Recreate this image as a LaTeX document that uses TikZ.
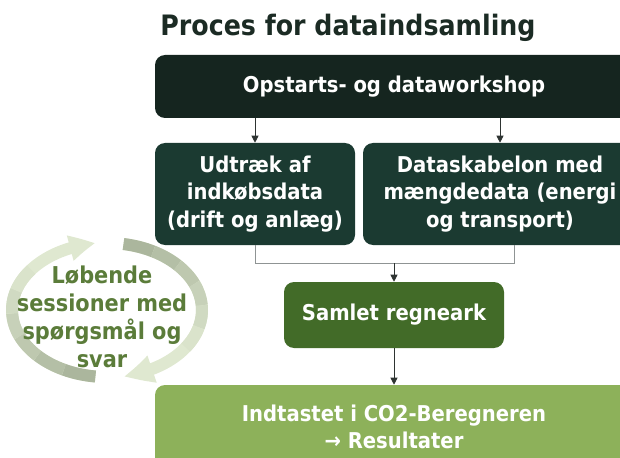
\documentclass[tikz,border=0pt]{standalone}
\usepackage{fontspec}
\setmainfont{DejaVu Sans Condensed}
\usetikzlibrary{arrows.meta,bending,calc}

\definecolor{titlecol}{HTML}{1B2B24}
\definecolor{topcol}{HTML}{15251F}
\definecolor{midcol}{HTML}{1B3A31}
\definecolor{samcol}{HTML}{426B28}
\definecolor{botcol}{HTML}{8DB15A}
\definecolor{cyctext}{HTML}{5B7C3A}
\definecolor{cycdark}{HTML}{ABB69D}
\definecolor{cyclight}{HTML}{DFE8D0}
\definecolor{linegray}{HTML}{8F9494}
\definecolor{tipgray}{HTML}{2E3432}

\newcommand{\boxfont}{\bfseries\fontsize{15.5}{19.5}\selectfont}
\newcommand{\cycfont}{\bfseries\fontsize{16.5}{19.8}\selectfont}

\tikzset{
  box/.style={rounded corners=0.25cm, text=white, font=\boxfont, align=center, inner sep=0pt},
  flow/.style={draw=tipgray, line width=0.6pt, -{Triangle[width=5pt,length=5pt]}},
  joinline/.style={draw=linegray, line width=0.7pt},
  cycarc/.style={line width=0.3cm},
}

\begin{document}
\begin{tikzpicture}
\useasboundingbox (0,0) rectangle (15.5,11.425);

% kredsloeb til venstre
\coordinate (cc) at (2.675,3.675);
\draw[cycarc, cyclight, -{Triangle[width=0.6cm,length=0.65cm,bend]}]
  ($(cc)+(-97:2.375 and 1.675)$) arc[start angle=-97, end angle=-263, x radius=2.375, y radius=1.675];
\draw[cycarc, cyclight, -{Triangle[width=0.65cm,length=0.75cm,bend]}]
  ($(cc)+(80:2.375 and 1.675)$) arc[start angle=80, end angle=-80, x radius=2.375, y radius=1.675];
\foreach \i in {0,...,5}{
  \pgfmathsetmacro\a{-97-20*\i}
  \pgfmathsetmacro\b{-97-20*(\i+1)}
  \pgfmathsetmacro\c{80-19*\i}
  \pgfmathsetmacro\d{80-19*(\i+1)}
  \pgfmathsetmacro\p{100-\i*18}
  \draw[cycarc, draw=cycdark!\p!cyclight]
    ($(cc)+(\a:2.375 and 1.675)$) arc[start angle=\a, end angle=\b, x radius=2.375, y radius=1.675];
  \draw[cycarc, draw=cycdark!\p!cyclight]
    ($(cc)+(\c:2.375 and 1.675)$) arc[start angle=\c, end angle=\d, x radius=2.375, y radius=1.675];
}
\node[font=\cycfont, text=cyctext, align=center] (session) at (2.55,3.5)
  {Løbende\\sessioner med\\spørgsmål og\\svar};

% overskrift
\node[font=\bfseries\fontsize{20}{24}\selectfont, text=titlecol] (title) at (8.7,10.725)
  {Proces for dataindsamling};

% bokse
\node[box, fill=topcol, minimum width=11.95cm, minimum height=1.575cm] (workshop) at (9.85,9.2625)
  {Opstarts- og dataworkshop};
\node[box, fill=midcol, minimum width=5cm, minimum height=2.55cm] (udtraek) at (6.375,6.575)
  {Udtræk af\\indkøbsdata\\(drift og anlæg)};
\node[box, fill=midcol, minimum width=6.85cm, minimum height=2.55cm] (skabelon) at (12.5,6.575)
  {Dataskabelon med\\mængdedata (energi\\og transport)};
\node[box, fill=samcol, minimum width=5.5cm, minimum height=1.65cm] (samlet) at (9.85,3.55)
  {Samlet regneark};
\node[box, fill=botcol, minimum width=11.95cm, minimum height=2.1cm] (resultat) at (9.85,0.75)
  {Indtastet i CO2-Beregneren\\→ Resultater};

% forbindelser
\draw[flow] (workshop.south -| udtraek.north) -- (udtraek.north);
\draw[flow] (workshop.south -| skabelon.north) -- (skabelon.north);
\draw[joinline] (udtraek.south) -- ++(0,-0.45) coordinate (join) -| ([xshift=0.35cm]skabelon.south);
\draw[flow] (join -| samlet.north) -- (samlet.north);
\draw[flow] (samlet.south) -- (resultat.north);
\end{tikzpicture}
\end{document}
